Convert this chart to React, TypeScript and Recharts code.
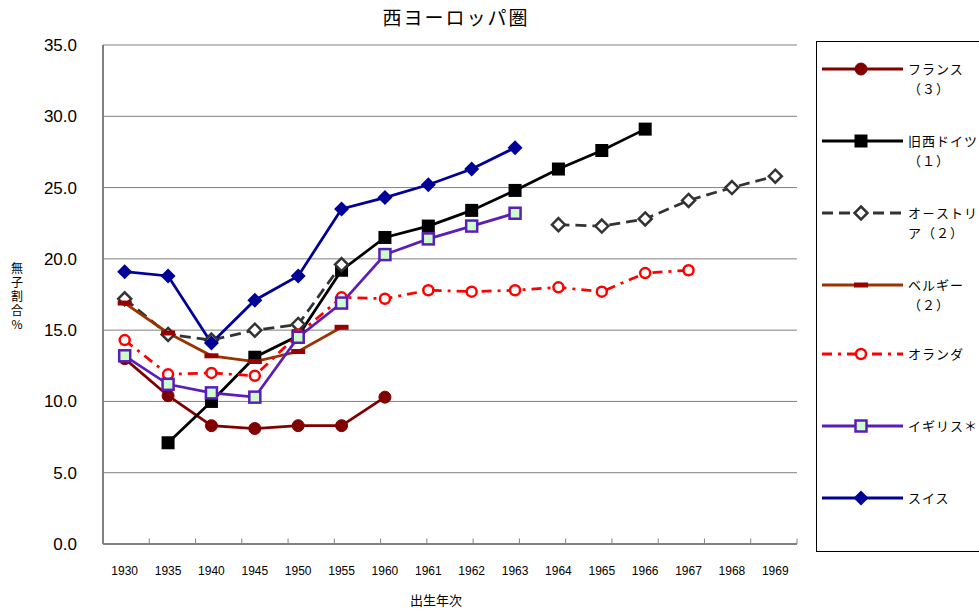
import React from "react";
import {
  LineChart,
  Line,
  XAxis,
  YAxis,
  CartesianGrid,
  ReferenceArea,
  ReferenceLine,
} from "recharts";

const years = [
  "1930", "1935", "1940", "1945", "1950", "1955", "1960", "1961",
  "1962", "1963", "1964", "1965", "1966", "1967", "1968", "1969",
];

// 無子割合 (%)
const france = [13.0, 10.4, 8.3, 8.1, 8.3, 8.3, 10.3, null, null, null, null, null, null, null, null, null];
const westGermany = [null, 7.1, 10.0, 13.1, 14.6, 19.2, 21.5, 22.3, 23.4, 24.8, 26.3, 27.6, 29.1, null, null, null];
const austria = [17.2, 14.7, 14.3, 15.0, 15.4, 19.6, null, null, null, null, 22.4, 22.3, 22.8, 24.1, 25.0, 25.8];
const belgium = [16.9, 14.8, 13.2, 12.8, 13.5, 15.2, null, null, null, null, null, null, null, null, null, null];
const netherlands = [14.3, 11.9, 12.0, 11.8, 14.7, 17.3, 17.2, 17.8, 17.7, 17.8, 18.0, 17.7, 19.0, 19.2, null, null];
const uk = [13.2, 11.2, 10.6, 10.3, 14.5, 16.9, 20.3, 21.4, 22.3, 23.2, null, null, null, null, null, null];
const swiss = [19.1, 18.8, 14.1, 17.1, 18.8, 23.5, 24.3, 25.2, 26.3, 27.8, null, null, null, null, null, null];

const yTicks = [0, 5, 10, 15, 20, 25, 30, 35];
const boundaryTicks = [1, 2, 3, 4, 5, 6, 7, 8, 9, 10, 11, 12, 13, 14, 15];

const rows = years.map((year, i) => ({
  year,
  france: france[i],
  westGermany: westGermany[i],
  austria: austria[i],
  belgium: belgium[i],
  netherlands: netherlands[i],
  uk: uk[i],
  swiss: swiss[i],
}));

type MarkerKind = "dot" | "square" | "diamond" | "bar" | "ring" | "box" | "openDiamond";

type Series = {
  key: string;
  label: string[];
  color: string;
  dash?: string;
  marker: MarkerKind;
  markerColor: string;
};

const series: Series[] = [
  { key: "france", label: ["フランス", "（３）"], color: "#800000", marker: "dot", markerColor: "#800000" },
  { key: "westGermany", label: ["旧西ドイツ", "（１）"], color: "#000000", marker: "square", markerColor: "#000000" },
  { key: "austria", label: ["オ－ストリ", "ア（２）"], color: "#333333", dash: "11 6", marker: "openDiamond", markerColor: "#333333" },
  { key: "belgium", label: ["ベルギー", "（２）"], color: "#993300", marker: "bar", markerColor: "#990000" },
  { key: "netherlands", label: ["オランダ"], color: "#ff0000", dash: "10 6 3 6", marker: "ring", markerColor: "#ff0000" },
  { key: "uk", label: ["イギリス＊"], color: "#5b1db8", marker: "box", markerColor: "#5b1db8" },
  { key: "swiss", label: ["スイス"], color: "#000099", marker: "diamond", markerColor: "#000099" },
];

const JP = '"Noto Sans CJK JP", "Noto Sans", sans-serif';
const NUM = '"Liberation Sans", Arial, sans-serif';

function Marker({ kind, cx, cy, color }: { kind: MarkerKind; cx: number; cy: number; color: string }) {
  switch (kind) {
    case "dot":
      return <circle cx={cx} cy={cy} r={6} fill={color} stroke={color} />;
    case "square":
      return <rect x={cx - 6.5} y={cy - 6.5} width={13} height={13} fill={color} />;
    case "diamond":
      return <polygon points={`${cx},${cy - 7.5} ${cx + 7.5},${cy} ${cx},${cy + 7.5} ${cx - 7.5},${cy}`} fill={color} />;
    case "openDiamond":
      return (
        <polygon
          points={`${cx},${cy - 6.5} ${cx + 6.5},${cy} ${cx},${cy + 6.5} ${cx - 6.5},${cy}`}
          fill="#ffffff"
          stroke={color}
          strokeWidth={2.5}
        />
      );
    case "bar":
      return <rect x={cx - 7} y={cy - 2.5} width={14} height={5} fill={color} />;
    case "ring":
      return <circle cx={cx} cy={cy} r={5} fill="#ffffff" stroke={color} strokeWidth={2.5} />;
    case "box":
      return <rect x={cx - 5.5} y={cy - 5.5} width={11} height={11} fill="#ccffcc" stroke={color} strokeWidth={2.5} />;
  }
  return null;
}

function renderDot(s: Series) {
  return (p: any) => {
    const k = `${s.key}-${p.index}`;
    if (p.value == null || p.cy == null || isNaN(p.cy)) return <g key={k} />;
    return (
      <g key={k}>
        <Marker kind={s.marker} cx={p.cx} cy={p.cy} color={s.markerColor} />
      </g>
    );
  };
}

const YLabel = () => (
  <text
    x={17}
    y={262}
    fontSize={12}
    fontFamily={JP}
    fill="#000"
    letterSpacing={2}
    style={{ writingMode: "vertical-rl", textOrientation: "upright" } as any}
  >
    無子割合%
  </text>
);

const XLabel = (props: any) => {
  const vb = props.viewBox || { x: 103, width: 694 };
  return (
    <text x={vb.x + vb.width / 2 - 14} y={605} textAnchor="middle" fontSize={13} fontFamily={JP} fill="#000">
      出生年次
    </text>
  );
};

function LegendBox() {
  const centers = [28, 100, 172, 244, 313, 385, 457];
  return (
    <svg width={163} height={512} style={{ position: "absolute", left: 816, top: 41 }}>
      <rect x={0.5} y={0.5} width={200} height={510} fill="#ffffff" stroke="#000" strokeWidth={1} />
      {series.map((s, i) => {
        const y = centers[i];
        return (
          <g key={s.key}>
            <line x1={6} x2={87} y1={y} y2={y} stroke={s.color} strokeWidth={3} strokeDasharray={s.dash} />
            <Marker kind={s.marker} cx={45} cy={y} color={s.markerColor} />
            <text x={92} y={y + 5} fontSize={13} fontFamily={JP} fill="#000" letterSpacing={1}>
              {s.label[0]}
            </text>
            {s.label[1] && (
              <text x={92} y={y + 25} fontSize={13} fontFamily={JP} fill="#000" letterSpacing={1}>
                {s.label[1]}
              </text>
            )}
          </g>
        );
      })}
    </svg>
  );
}

export default function App() {
  return (
    <div style={{ position: "absolute", left: 0, top: 0, width: 979, height: 612, background: "#fff" }}>
      <div
        style={{
          position: "absolute",
          left: 0,
          top: 5,
          width: 912,
          textAlign: "center",
          fontFamily: JP,
          fontSize: 19,
          lineHeight: "24px",
          letterSpacing: 2,
          color: "#000",
        }}
      >
        西ヨーロッパ圏
      </div>
      <LineChart
        width={979}
        height={612}
        data={rows}
        margin={{ top: 45, right: 182, bottom: 0, left: 0 }}
      >
        <XAxis xAxisId="grid" type="number" domain={[0, 16]} height={0} hide />
        <XAxis
          dataKey="year"
          padding={{ left: 21.7, right: 21.7 }}
          height={68}
          tickSize={0}
          tickMargin={22}
          tickLine={false}
          axisLine={{ stroke: "#808080", strokeWidth: 2 }}
          tick={{ fontSize: 12, fill: "#000", fontFamily: NUM }}
          interval={0}
          label={<XLabel />}
        />
        <YAxis
          domain={[0, 35]}
          ticks={yTicks}
          width={103}
          tickSize={0}
          tickMargin={26}
          tickLine={false}
          axisLine={{ stroke: "#808080", strokeWidth: 2 }}
          tick={{ fontSize: 17, fill: "#000", fontFamily: NUM }}
          tickFormatter={(v: number) => v.toFixed(1)}
          interval={0}
          label={<YLabel />}
        />
        <CartesianGrid vertical={false} stroke="#808080" strokeWidth={1} />
        <ReferenceArea
          xAxisId="grid"
          x1={0}
          x2={16}
          y1={0}
          y2={35}
          fill="none"
          fillOpacity={0}
          stroke="#808080"
          strokeWidth={2}
        />
        {boundaryTicks.map((b) => (
          <ReferenceLine
            key={b}
            xAxisId="grid"
            segment={[
              { x: b, y: 0 },
              { x: b, y: 0.38 },
            ]}
            stroke="#808080"
            strokeWidth={1}
          />
        ))}
        {series.map((s) => (
          <Line
            key={s.key}
            dataKey={s.key}
            stroke={s.color}
            strokeWidth={2.75}
            strokeDasharray={s.dash}
            dot={renderDot(s)}
            activeDot={false}
            connectNulls={false}
            isAnimationActive={false}
            type="linear"
          />
        ))}
      </LineChart>
      <LegendBox />
    </div>
  );
}
